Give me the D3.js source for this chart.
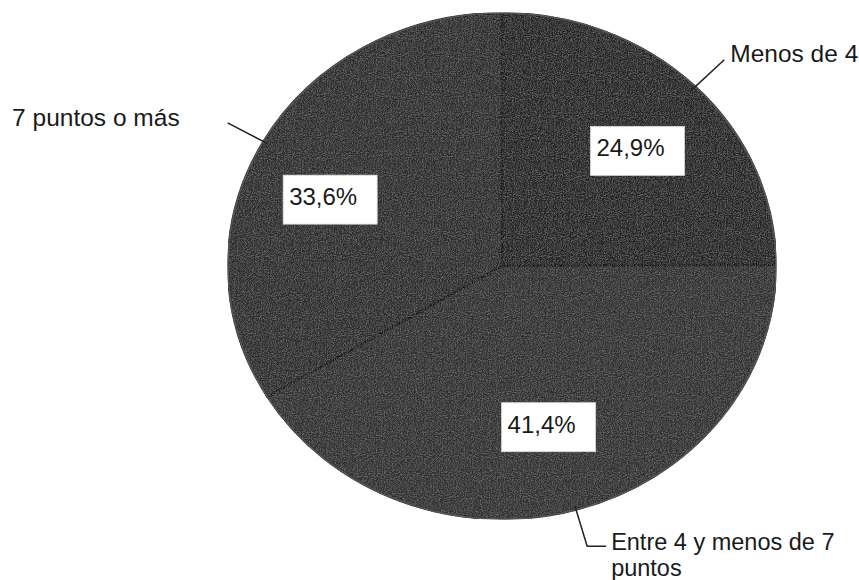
<!DOCTYPE html>
<html>
<head>
<meta charset="utf-8">
<script src="https://cdn.jsdelivr.net/npm/d3@7/dist/d3.min.js"></script>
<style>
  html, body { margin: 0; padding: 0; background: #fff; }
  svg { display: block; }
  text { font-family: "Liberation Sans", Arial, sans-serif; fill: #1a1a1a; }
</style>
</head>
<body>
<svg id="chart" width="859" height="580"></svg>
<script>
// ---- Data ----
const categories = ["Menos de 4", "Entre 4 y menos de 7 puntos", "7 puntos o más"];
const values = [24.9, 41.4, 33.6];
const valueLabels = ["24,9%", "41,4%", "33,6%"];
const nameLines = [["Menos de 4"], ["Entre 4 y menos de 7", "puntos"], ["7 puntos o más"]];

// ---- Layout / style ----
const W = 859, H = 580;
const cx = 502, cy = 266, rx = 274, ry = 253;
const fills = ["#272727", "#323232", "#2e2e2e"];
const labelNudge = [[6, 5], [-3, -2], [-12, 17]];

const svg = d3.select("#chart");

// noise texture filter
const defs = svg.append("defs");
const f = defs.append("filter").attr("id", "grain").attr("x", 0).attr("y", 0).attr("width", 1).attr("height", 1);
f.append("feTurbulence").attr("type", "fractalNoise").attr("baseFrequency", 0.95).attr("numOctaves", 2).attr("seed", 3).attr("result", "noise");
f.append("feColorMatrix").attr("in", "noise").attr("type", "matrix")
  .attr("values", "0 0 0 0 0.55  0 0 0 0 0.55  0 0 0 0 0.55  0.3 0.3 0.3 0 -0.4").attr("result", "gn");
f.append("feComposite").attr("in", "gn").attr("in2", "SourceGraphic").attr("operator", "in").attr("result", "gm");
f.append("feMerge").selectAll("feMergeNode").data(["SourceGraphic", "gm"]).join("feMergeNode").attr("in", d => d);

const pie = d3.pie().sort(null).value(d => d)(values);
const R = ry;
const arc = d3.arc().innerRadius(0).outerRadius(R);
const sx = rx / ry;

const g = svg.append("g").attr("transform", `translate(${cx},${cy}) scale(${sx},1)`);
const pg = g.append("g").attr("filter", "url(#grain)");
pg.selectAll("path.slice").data(pie).join("path")
  .attr("class", "slice")
  .attr("d", arc)
  .attr("fill", (d, i) => fills[i])
  .attr("stroke", "#171717")
  .attr("stroke-width", 2.2)
  .attr("vector-effect", "non-scaling-stroke");
// outer rim
g.append("ellipse").attr("cx", 0).attr("cy", 0).attr("rx", R).attr("ry", R)
  .attr("fill", "none").attr("stroke", "#555").attr("stroke-width", 1.6)
  .attr("vector-effect", "non-scaling-stroke");

function pt(a, k) {
  return [cx + rx * k * Math.sin(a), cy - ry * k * Math.cos(a)];
}

// value label boxes
const boxW = 94, boxH = 49, labK = 0.67;
pie.forEach((d, i) => {
  const a = (d.startAngle + d.endAngle) / 2;
  const [x0, y0] = pt(a, labK);
  const x = x0 + labelNudge[i][0], y = y0 + labelNudge[i][1];
  const bx = x - boxW / 2, by = y - boxH / 2;
  svg.append("rect").attr("x", bx).attr("y", by).attr("width", boxW).attr("height", boxH)
    .attr("fill", "#ffffff").attr("stroke", "#d8d8d8").attr("stroke-width", 0.8);
  svg.append("text").attr("x", bx + 6).attr("y", by + 30)
    .attr("font-size", 24).text(valueLabels[i]);
});

// leader lines and category labels
const leaderOut = 1.15;
const textOpts = [
  { dx: 6, dy: 2, anchor: "start", hook: 0, size: 24.5, lh: 0 },
  { dx: 5, dy: 4, anchor: "start", hook: 19, size: 23.5, lh: 26 },
  { dx: -48, dy: 3, anchor: "end", hook: 0, size: 24.5, lh: 0 }
];
pie.forEach((d, i) => {
  const a = (d.startAngle + d.endAngle) / 2;
  const p0 = pt(a, 0.985), p1 = pt(a, leaderOut);
  const o = textOpts[i];
  const pts = [p0, p1];
  let ex = p1[0];
  if (o.hook) { ex = p1[0] + o.hook; pts.push([ex, p1[1]]); }
  svg.append("path").attr("d", d3.line()(pts))
    .attr("fill", "none").attr("stroke", "#222").attr("stroke-width", 1.5);
  const t = svg.append("text").attr("text-anchor", o.anchor).attr("font-size", o.size);
  nameLines[i].forEach((ln, j) => {
    t.append("tspan").attr("x", ex + o.dx).attr("y", p1[1] + o.dy + j * o.lh).text(ln);
  });
});
</script>
</body>
</html>
